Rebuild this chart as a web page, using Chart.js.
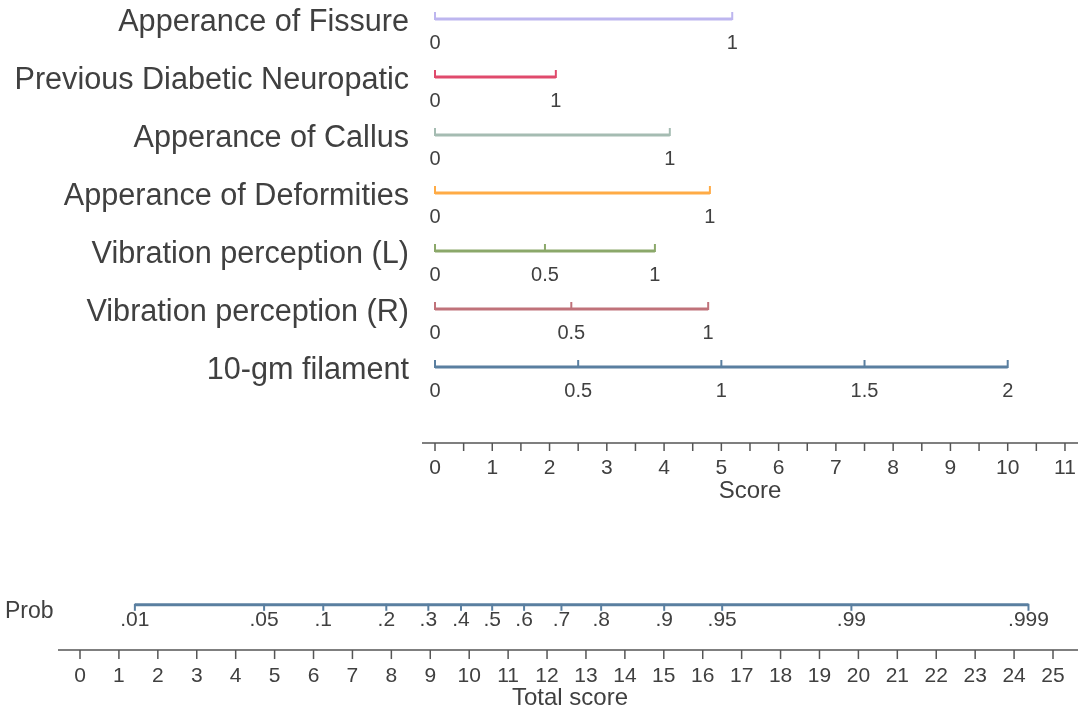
<!DOCTYPE html>
<html>
<head>
<meta charset="utf-8">
<script src="https://cdn.jsdelivr.net/npm/chart.js@4/dist/chart.umd.min.js"></script>
<style>
  body { margin: 0; background: #fff; }
  #wrap { width: 1081px; height: 711px; }
</style>
</head>
<body>
<div id="wrap"><canvas id="nomo" width="1081" height="711"></canvas></div>
<script>
// predictors, top to bottom
const variables = [
  'Apperance of Fissure',
  'Previous Diabetic Neuropatic',
  'Apperance of Callus',
  'Apperance of Deformities',
  'Vibration perception (L)',
  'Vibration perception (R)',
  '10-gm filament'
]
const colors = ['#bdb6ef', '#e04a6c', '#a5bcb2', '#ffab45', '#8ba86a', '#c0727a', '#5a7fa0']

// tick labels of each predictor and their position on the Score axis
const varLabels = [
  ['0', '1'],
  ['0', '1'],
  ['0', '1'],
  ['0', '1'],
  ['0', '0.5', '1'],
  ['0', '0.5', '1'],
  ['0', '0.5', '1', '1.5', '2']
]
const varPoints = [
  [0, 5.19],
  [0, 2.11],
  [0, 4.10],
  [0, 4.80],
  [0, 1.92, 3.84],
  [0, 2.38, 4.77],
  [0, 2.5, 5, 7.5, 10]
]

const scoreTicks = [0, 1, 2, 3, 4, 5, 6, 7, 8, 9, 10, 11]
const totalTicks = [0, 1, 2, 3, 4, 5, 6, 7, 8, 9, 10, 11, 12, 13, 14, 15, 16, 17, 18, 19, 20, 21, 22, 23, 24, 25]

// probability labels and where they sit on the Total score axis
const probLabels = ['.01', '.05', '.1', '.2', '.3', '.4', '.5', '.6', '.7', '.8', '.9', '.95', '.99', '.999']
const probPoints = [1.41, 4.73, 6.25, 7.87, 8.95, 9.79, 10.59, 11.41, 12.37, 13.39, 15.01, 16.5, 19.82, 24.37]

// rows (y in row units)
const scoreRow = 7.31
const probRow = 10.1
const totalRow = 10.88

const W = 1081, H = 711
const textColor = '#404040'
const axisColor = '#555555'
const font = 'Arial, "Liberation Sans", sans-serif'

// pixel anchors used to set the scale ranges
const scoreX0 = 435, scoreUnit = 57.27
const totalX0 = 80, totalUnit = 38.92
const rowY0 = 19, rowUnit = 58

const datasets = []
variables.forEach((v, i) => {
  const pts = varPoints[i]
  datasets.push({
    label: v,
    xAxisID: 'xs',
    data: [{ x: pts[0], y: i }, { x: pts[pts.length - 1], y: i }],
    borderColor: colors[i],
    borderWidth: 3,
    pointRadius: 0
  })
})
datasets.push({
  label: 'Prob',
  xAxisID: 'xt',
  data: [{ x: probPoints[0], y: probRow }, { x: probPoints[probPoints.length - 1], y: probRow }],
  borderColor: '#5a7fa0',
  borderWidth: 3,
  pointRadius: 0
})

const nomoPlugin = {
  id: 'nomo',
  afterDatasetsDraw(chart) {
    const ctx = chart.ctx
    const xs = chart.scales.xs, xt = chart.scales.xt, y = chart.scales.y
    ctx.save()
    ctx.lineCap = 'butt'

    // predictor ticks and labels
    variables.forEach((v, i) => {
      const yy = y.getPixelForValue(i)
      ctx.strokeStyle = colors[i]
      ctx.lineWidth = 2
      varPoints[i].forEach(p => {
        const xx = xs.getPixelForValue(p)
        ctx.beginPath()
        ctx.moveTo(xx, yy + 1)
        ctx.lineTo(xx, yy - 7)
        ctx.stroke()
      })
      ctx.fillStyle = textColor
      ctx.font = '20px ' + font
      ctx.textAlign = 'center'
      ctx.textBaseline = 'middle'
      varPoints[i].forEach((p, k) => {
        ctx.fillText(varLabels[i][k], xs.getPixelForValue(p), yy + 24)
      })
      ctx.font = '30.6px ' + font
      ctx.textAlign = 'right'
      ctx.fillText(v, 409, yy + 4)
    })

    // Score axis
    const sy = y.getPixelForValue(scoreRow)
    ctx.strokeStyle = axisColor
    ctx.lineWidth = 1.5
    ctx.beginPath()
    ctx.moveTo(422, sy)
    ctx.lineTo(1078, sy)
    ctx.stroke()
    for (let t = 0; t <= 22; t++) {
      const xx = xs.getPixelForValue(t / 2)
      ctx.beginPath()
      ctx.moveTo(xx, sy)
      ctx.lineTo(xx, sy + 8)
      ctx.stroke()
    }
    ctx.fillStyle = textColor
    ctx.font = '21px ' + font
    ctx.textAlign = 'center'
    ctx.textBaseline = 'middle'
    scoreTicks.forEach(t => ctx.fillText(String(t), xs.getPixelForValue(t), sy + 25))
    ctx.font = '24px ' + font
    ctx.fillText('Score', xs.getPixelForValue(5.5), sy + 48)

    // Prob axis
    const py = y.getPixelForValue(probRow)
    ctx.strokeStyle = '#5a7fa0'
    ctx.lineWidth = 2
    probPoints.forEach(p => {
      const xx = xt.getPixelForValue(p)
      ctx.beginPath()
      ctx.moveTo(xx, py - 1)
      ctx.lineTo(xx, py + 6)
      ctx.stroke()
    })
    ctx.fillStyle = textColor
    ctx.font = '21px ' + font
    probPoints.forEach((p, k) => ctx.fillText(probLabels[k], xt.getPixelForValue(p), py + 15))
    ctx.font = '23px ' + font
    ctx.textAlign = 'left'
    ctx.fillText('Prob', 5, py + 7)

    // Total score axis
    const ty = y.getPixelForValue(totalRow)
    ctx.strokeStyle = axisColor
    ctx.lineWidth = 1.5
    ctx.beginPath()
    ctx.moveTo(58, ty)
    ctx.lineTo(1078, ty)
    ctx.stroke()
    totalTicks.forEach(t => {
      const xx = xt.getPixelForValue(t)
      ctx.beginPath()
      ctx.moveTo(xx, ty)
      ctx.lineTo(xx, ty + 9)
      ctx.stroke()
    })
    ctx.fillStyle = textColor
    ctx.font = '21px ' + font
    ctx.textAlign = 'center'
    totalTicks.forEach(t => ctx.fillText(String(t), xt.getPixelForValue(t), ty + 26))
    ctx.font = '24px ' + font
    ctx.fillText('Total score', xt.getPixelForValue(12.59), ty + 48)

    ctx.restore()
  }
}

new Chart(document.getElementById('nomo'), {
  type: 'line',
  data: { datasets: datasets },
  options: {
    responsive: false,
    animation: false,
    layout: { padding: 0 },
    plugins: { legend: { display: false }, tooltip: { enabled: false } },
    scales: {
      xs: {
        type: 'linear', display: false,
        min: -scoreX0 / scoreUnit, max: (W - scoreX0) / scoreUnit
      },
      xt: {
        type: 'linear', display: false,
        min: -totalX0 / totalUnit, max: (W - totalX0) / totalUnit
      },
      y: {
        type: 'linear', display: false, reverse: true,
        min: -rowY0 / rowUnit, max: (H - rowY0) / rowUnit
      }
    }
  },
  plugins: [nomoPlugin]
})
</script>
</body>
</html>
